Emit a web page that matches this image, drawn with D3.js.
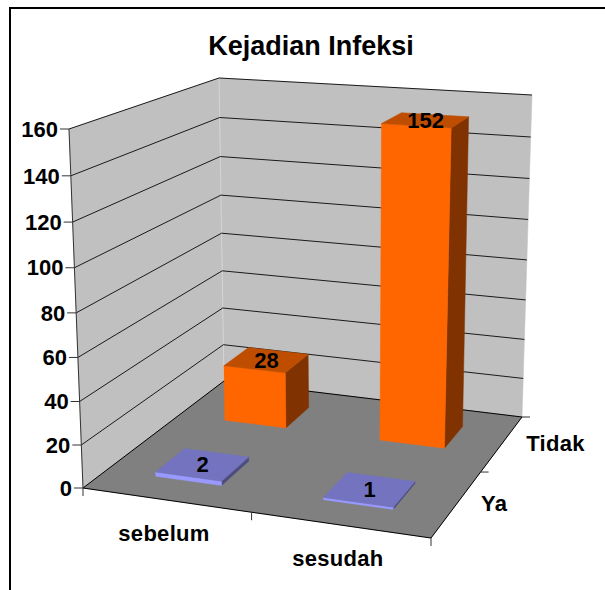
<!DOCTYPE html>
<html>
<head>
<meta charset="utf-8">
<script src="https://cdn.jsdelivr.net/npm/d3@7"></script>
<style>
html, body { margin: 0; padding: 0; background: #fff; }
text { font-family: "Liberation Sans", Arial, sans-serif; font-weight: bold; fill: #000; }
</style>
</head>
<body>
<div id="chart"></div>
<script>
var title = "Kejadian Infeksi"
var categories = ["sebelum", "sesudah"]
var seriesNames = ["Ya", "Tidak"]
var valuesYa = [2, 1]
var valuesTidak = [28, 152]
var valueTicks = [0, 20, 40, 60, 80, 100, 120, 140, 160]

var colors = {
  Ya: { front: "#9999ff", top: "#7373bf", side: "#4d4d80" },
  Tidak: { front: "#ff6600", top: "#bf4d00", side: "#803300" }
}

var svg = d3.select("#chart").append("svg").attr("width", 605).attr("height", 590)

// frame runs off the right and bottom of the picture
svg.append("rect").attr("x", 10).attr("y", 8).attr("width", 640).attr("height", 640)
  .attr("fill", "#fff").attr("stroke", "#000").attr("stroke-width", 2)

// unit square -> quad, corners in order (0,0) (1,0) (1,1) (0,1)
function homography(q) {
  var x0 = q[0][0], y0 = q[0][1], x1 = q[1][0], y1 = q[1][1], x2 = q[2][0], y2 = q[2][1], x3 = q[3][0], y3 = q[3][1]
  var dx1 = x1 - x2, dx2 = x3 - x2, sx = x0 - x1 + x2 - x3
  var dy1 = y1 - y2, dy2 = y3 - y2, sy = y0 - y1 + y2 - y3
  var den = dx1 * dy2 - dx2 * dy1
  var g = (sx * dy2 - dx2 * sy) / den, h = (dx1 * sy - sx * dy1) / den
  return function(u, d) {
    var w = g * u + h * d + 1
    return [((x1 - x0 + g * x1) * u + (x3 - x0 + h * x3) * d + x0) / w,
            ((y1 - y0 + g * y1) * u + (y3 - y0 + h * y3) * d + y0) / w]
  }
}

var floorPlane = homography([[83, 488], [431, 538], [522, 417], [224, 381]])
var topPlane = homography([[69, 129], [445, 157], [532, 95], [219, 78]])

var yScale = d3.scaleLinear().domain([0, 160]).range([0, 1])
var xBand = d3.scaleBand().domain(categories).range([0, 1]).paddingInner(0.6).paddingOuter(0.3)
var dBand = d3.scaleBand().domain(seriesNames).range([0, 1]).paddingInner(0.6).paddingOuter(0.3)

var vertPersp = 1.05

function project(u, d, v) {
  var a = floorPlane(u, d), b = topPlane(u, d), s = yScale(v)
  // upper gridlines sit a little further apart than lower ones
  var t = s / (vertPersp - (vertPersp - 1) * s)
  return [a[0] + (b[0] - a[0]) * t, a[1] + (b[1] - a[1]) * t]
}

var line = d3.line()
function poly(parent, pts, fill, stroke) {
  return parent.append("path").attr("d", line(pts) + "Z").attr("fill", fill).attr("stroke", stroke || fill).attr("stroke-width", 0.5)
}
function seg(parent, a, b, color, width) {
  return parent.append("line").attr("x1", a[0]).attr("y1", a[1]).attr("x2", b[0]).attr("y2", b[1])
    .attr("stroke", color).attr("stroke-width", width)
}

var walls = svg.append("g")
poly(walls, [project(0, 0, 0), project(0, 1, 0), project(0, 1, 160), project(0, 0, 160)], "#c0c0c0")
poly(walls, [project(0, 1, 0), project(1, 1, 0), project(1, 1, 160), project(0, 1, 160)], "#c0c0c0")
seg(walls, project(0, 1, 0), project(0, 1, 160), "#d4d4d4", 1)

valueTicks.forEach(function(v) {
  if (v > 0) {
    seg(walls, project(0, 0, v), project(0, 1, v), "#1a1a1a", 1)
    seg(walls, project(0, 1, v), project(1, 1, v), "#1a1a1a", 1)
  }
})

var floor = svg.append("g")
poly(floor, [project(0, 0, 0), project(1, 0, 0), project(1, 1, 0), project(0, 1, 0)], "#808080")
seg(floor, project(0, 0, 0), project(0, 1, 0), "#000", 1)
seg(floor, project(0, 1, 0), project(1, 1, 0), "#000", 1)
seg(floor, project(0, 0, 0), project(1, 0, 0), "#000", 1)
seg(floor, project(1, 0, 0), project(1, 1, 0), "#000", 1)
seg(floor, project(0, 0, 0), project(0, 0, 160), "#333", 1)

// value axis
var axis = svg.append("g")
valueTicks.forEach(function(v) {
  var p = project(0, 0, v)
  seg(axis, [p[0] - 9, p[1]], p, "#333", 1)
  axis.append("text").attr("x", p[0] - 11).attr("y", p[1]).attr("dy", "0.35em")
    .attr("text-anchor", "end").style("font-size", "22px").text(v)
})

// category ticks and labels along the front edge
var xTickPos = [0, 0.5, 1]
xTickPos.forEach(function(u) {
  var p = project(u, 0, 0)
  seg(axis, p, [p[0], p[1] + 8], "#333", 1)
})
categories.forEach(function(c) {
  var p = project(xBand(c) + xBand.bandwidth() / 2, 0, 0)
  axis.append("text").attr("x", p[0] - 2).attr("y", p[1] + 33).attr("dy", "0.35em")
    .attr("text-anchor", "middle").style("font-size", "22px").style("letter-spacing", "0.3px").text(c)
})

// depth ticks and labels along the right edge
var dTickPos = [0.5, 1]
dTickPos.forEach(function(d) {
  var p = project(1, d, 0)
  seg(axis, p, [p[0] + 8, p[1]], "#333", 1)
})
seriesNames.forEach(function(s) {
  var p = project(1, dBand(s) + dBand.bandwidth() / 2, 0)
  axis.append("text").attr("x", p[0] + 24).attr("y", p[1]).attr("dy", "0.35em")
    .attr("text-anchor", "start").style("font-size", "22px").style("letter-spacing", "0.3px").text(s)
})

// bars, back row first
var rows = [
  { name: "Tidak", values: valuesTidak },
  { name: "Ya", values: valuesYa }
]
var bars = svg.append("g")
var labels = svg.append("g")
rows.forEach(function(row) {
  var col = colors[row.name]
  row.values.forEach(function(v, i) {
    var u0 = xBand(categories[i]), u1 = u0 + xBand.bandwidth()
    var d0 = dBand(row.name), d1 = d0 + dBand.bandwidth()
    poly(bars, [project(u1, d0, 0), project(u1, d1, 0), project(u1, d1, v), project(u1, d0, v)], col.side)
    poly(bars, [project(u0, d0, 0), project(u1, d0, 0), project(u1, d0, v), project(u0, d0, v)], col.front)
    poly(bars, [project(u0, d0, v), project(u1, d0, v), project(u1, d1, v), project(u0, d1, v)], col.top)
    var c = project((u0 + u1) / 2, (d0 + d1) / 2, v)
    labels.append("text").attr("x", c[0]).attr("y", c[1]).attr("dy", "0.35em")
      .attr("text-anchor", "middle").style("font-size", "22px").text(v)
  })
})

svg.append("text").attr("x", 311).attr("y", 55).attr("text-anchor", "middle")
  .style("font-size", "27px").text(title)
</script>
</body>
</html>
